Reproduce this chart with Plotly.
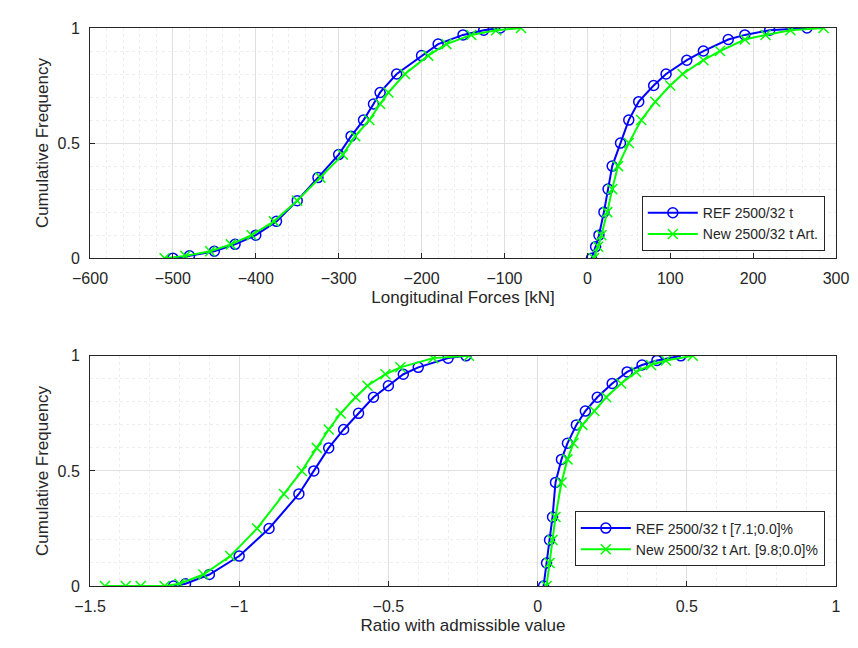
import plotly.graph_objects as go
from plotly.subplots import make_subplots

# cumulative frequency levels
cf_a = [0, 0.01, 0.03, 0.06, 0.1, 0.16, 0.25, 0.35, 0.45, 0.53, 0.6, 0.67, 0.72, 0.8, 0.88, 0.93, 0.97, 0.99, 1]
# top plot - longitudinal forces [kN]
ref_force_neg = [-500, -480, -450, -425, -400, -375, -350, -325, -300, -285, -270, -258, -250, -230, -200, -180, -150, -125, -105]
new_force_neg = [-510, -485, -455, -430, -405, -378, -350, -322, -295, -280, -263, -250, -240, -220, -192, -170, -140, -110, -80]

cf_b = [0, 0.05, 0.1, 0.2, 0.3, 0.4, 0.5, 0.6, 0.68, 0.75, 0.8, 0.86, 0.9, 0.95, 0.97, 0.99, 1]
ref_force_pos = [5, 10, 14, 20, 25, 30, 40, 50, 62, 80, 95, 120, 140, 170, 190, 220, 265]
new_force_pos = [8, 13, 17, 24, 30, 37, 50, 65, 82, 100, 115, 140, 160, 190, 215, 245, 285]

# bottom plot - ratio with admissible value
cf_c = [0, 0.01, 0.05, 0.13, 0.25, 0.4, 0.5, 0.6, 0.68, 0.75, 0.82, 0.87, 0.92, 0.95, 0.99, 1]
ref_ratio_neg = [-1.22, -1.18, -1.1, -1.0, -0.9, -0.8, -0.75, -0.7, -0.65, -0.6, -0.55, -0.5, -0.45, -0.4, -0.3, -0.24]
new_ratio_neg = [-1.25, -1.2, -1.12, -1.03, -0.94, -0.85, -0.79, -0.74, -0.7, -0.66, -0.61, -0.57, -0.51, -0.46, -0.35, -0.23]
new_ratio_tail = [-1.45, -1.38, -1.33]

cf_d = [0, 0.1, 0.2, 0.3, 0.45, 0.55, 0.62, 0.7, 0.76, 0.82, 0.88, 0.93, 0.96, 0.98, 1]
ref_ratio_pos = [0.02, 0.03, 0.04, 0.05, 0.06, 0.08, 0.1, 0.13, 0.16, 0.2, 0.25, 0.3, 0.35, 0.4, 0.48]
new_ratio_pos = [0.03, 0.04, 0.05, 0.06, 0.08, 0.1, 0.12, 0.15, 0.19, 0.23, 0.28, 0.33, 0.38, 0.43, 0.52]

blue = "#0000FF"
green = "#00FF00"

fig = make_subplots(rows=2, cols=1, vertical_spacing=0.175)

def add(x, y, row, color, symbol, name, legend, show):
    fig.add_trace(go.Scatter(
        x=x, y=y, mode="lines+markers", name=name, legend=legend, showlegend=show,
        line=dict(color=color, width=2),
        marker=dict(symbol=symbol, size=10, color=color, line=dict(color=color, width=1.5)),
    ), row=row, col=1)

add(ref_force_neg, cf_a, 1, blue, "circle-open", "REF 2500/32 t", "legend", True)
add(ref_force_pos, cf_b, 1, blue, "circle-open", "REF 2500/32 t", "legend", False)
add(new_force_neg, cf_a, 1, green, "x-thin-open", "New 2500/32 t Art.", "legend", True)
add(new_force_pos, cf_b, 1, green, "x-thin-open", "New 2500/32 t Art.", "legend", False)

add(ref_ratio_neg, cf_c, 2, blue, "circle-open", "REF 2500/32 t [7.1;0.0]%", "legend2", True)
add(ref_ratio_pos, cf_d, 2, blue, "circle-open", "REF", "legend2", False)
add(new_ratio_tail + new_ratio_neg, [0, 0, 0] + cf_c, 2, green, "x-thin-open",
    "New 2500/32 t Art. [9.8;0.0]%", "legend2", True)
add(new_ratio_pos, cf_d, 2, green, "x-thin-open", "New", "legend2", False)

axis_style = dict(showline=True, mirror=True, linecolor="#262626", linewidth=1,
                  gridcolor="#DFDFDF", zeroline=False, ticks="inside", ticklen=5,
                  tickcolor="#262626", tickfont=dict(size=16, color="#262626"),
                  minor=dict(showgrid=True, gridcolor="#EEEEEE", griddash="dot", ticklen=0))

fig.update_xaxes(**axis_style, ticklabelstandoff=6)
fig.update_yaxes(**axis_style, ticklabelstandoff=6)
fig.update_xaxes(range=[-600, 300], dtick=100, minor=dict(dtick=20),
                 title=dict(text="Longitudinal Forces [kN]", font=dict(size=17), standoff=4), row=1, col=1)
fig.update_xaxes(range=[-1.5, 1], dtick=0.5, minor=dict(dtick=0.1),
                 title=dict(text="Ratio with admissible value", font=dict(size=17), standoff=4), row=2, col=1)
fig.update_yaxes(range=[0, 1], tickvals=[0, 0.5, 1], ticktext=["0", "0.5", "1"], minor=dict(dtick=0.1),
                 title=dict(text="Cumulative Frequency", font=dict(size=17), standoff=4))

legend_style = dict(bgcolor="white", bordercolor="#262626", borderwidth=1,
                    font=dict(size=14, color="#262626"), xanchor="right", yanchor="bottom",
                    tracegroupgap=0, itemwidth=50)

fig.update_layout(
    width=858, height=648,
    margin=dict(l=82, r=30, t=12, b=70),
    plot_bgcolor="white", paper_bgcolor="white",
    font=dict(family="Liberation Sans, Arial", color="#262626"),
    legend=dict(x=0.985, y=0.6, **legend_style),
    legend2=dict(x=0.985, y=0.035, **legend_style),
)

fig.write_html("out.html")
